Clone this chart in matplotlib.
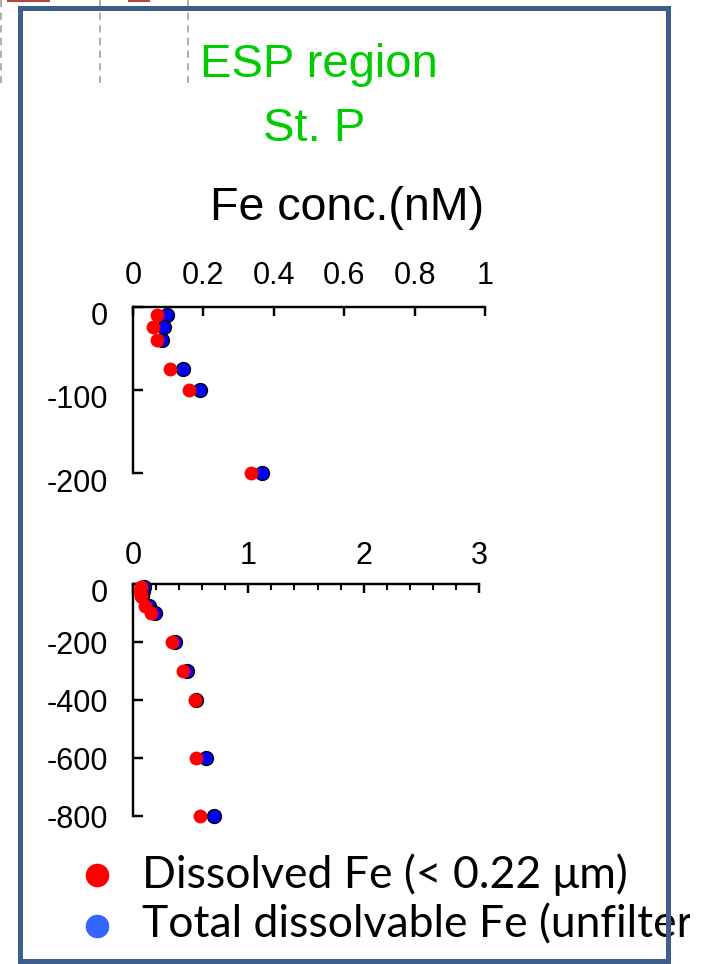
import matplotlib
matplotlib.use("Agg")
import matplotlib.pyplot as plt
from matplotlib.lines import Line2D
from matplotlib.patches import Rectangle
from matplotlib.transforms import Bbox, TransformedBbox, ScaledTranslation
from matplotlib.ticker import MultipleLocator

W, H = 717, 964

# Fe profile at St. P (depth in m, conc. in nM)
depth = [-10, -25, -40, -75, -100, -200, -300, -400, -600, -800]
dissolved_fe = [0.067, 0.058, 0.069, 0.105, 0.16, 0.335, 0.43, 0.54, 0.545, 0.58]
total_fe = [0.096, 0.089, 0.081, 0.143, 0.19, 0.367, 0.47, 0.55, 0.63, 0.70]
n_upper = 6  # upper panel shows 0-200 m

upper_xticks = [0, 0.2, 0.4, 0.6, 0.8, 1]
upper_xlabels = ["0", "0.2", "0.4", "0.6", "0.8", "1"]
upper_yticks = [0, -100, -200]
upper_ylabels = ["0", "-100", "-200"]
lower_xticks = [0, 1, 2, 3]
lower_xlabels = ["0", "1", "2", "3"]
lower_yticks = [0, -200, -400, -600, -800]
lower_ylabels = ["0", "-200", "-400", "-600", "-800"]

legend_labels = ["Dissolved Fe (< 0.22 \u03bcm)", "Total dissolvable Fe (unfiltered)"]
legend_colors = ["#ff0000", "#3366ff"]


def fx(x):
    return x / W


def fy(y):
    return 1 - y / H


fig = plt.figure(figsize=(W / 100, H / 100), dpi=100)
fig.patch.set_facecolor("white")

# bits of the neighbouring slide content at the top
for x in [1, 100, 188]:
    fig.add_artist(Line2D([fx(x), fx(x)], [fy(0), fy(83)], transform=fig.transFigure,
                          color="#a8a8a8", lw=1.3, ls=(0, (4, 3))))
for x0, x1 in [(7, 50), (128, 150)]:
    fig.add_artist(Rectangle((fx(x0), fy(2)), fx(x1 - x0), 2 / H, transform=fig.transFigure,
                             color="#b5463e", lw=0))

font = "Liberation Sans"
green = "#00cc00"
fig.text(fx(319), fy(77), "ESP region", color=green, fontsize=34, family=font,
         ha="center", va="baseline")
fig.text(fx(314), fy(141), "St. P", color=green, fontsize=34, family=font,
         ha="center", va="baseline")
fig.text(fx(347), fy(220), "Fe conc.(nM)", color="black", fontsize=33.5, family=font,
         ha="center", va="baseline")


def setup(ax, xlim, ylim, xticks, xlabels, yticks, ylabels, xpad):
    ax.set_xlim(*xlim)
    ax.set_ylim(*ylim)
    ax.spines["bottom"].set_visible(False)
    ax.spines["right"].set_visible(False)
    for s in ["top", "left"]:
        ax.spines[s].set_linewidth(1.75)
    ax.xaxis.tick_top()
    ax.set_xticks(xticks)
    ax.set_xticklabels(xlabels, family=font, fontsize=22)
    ax.set_yticks(yticks)
    ax.set_yticklabels(ylabels, family=font, fontsize=22)
    ax.tick_params(axis="x", which="major", direction="in", length=6.5, width=1.75, pad=xpad)
    ax.tick_params(axis="x", which="minor", direction="in", length=4.5, width=1.5)
    ax.tick_params(axis="y", direction="in", length=7, width=1.75, pad=18)
    ax.patch.set_alpha(0)


def plot_profile(ax, n):
    ax.plot(total_fe[:n], depth[:n], "o", ms=10, mfc="#0000ff", mec="black", mew=1,
            clip_on=False, zorder=3)
    ax.plot(dissolved_fe[:n], depth[:n], "o", ms=10, mfc="#ff0000", mec="none",
            clip_on=False, zorder=4)


# upper panel 0-200 m
ax1 = fig.add_axes([fx(133), fy(473), fx(485 - 133), (473 - 306.5) / H])
setup(ax1, (0, 1), (-200, 0), upper_xticks, upper_xlabels, upper_yticks, upper_ylabels, 11.5)
plot_profile(ax1, n_upper)
shift = ScaledTranslation(0, -7 / 100, fig.dpi_scale_trans)
for lab in ax1.get_yticklabels():
    lab.set_transform(lab.get_transform() + shift)

# lower panel 0-800 m
ax2 = fig.add_axes([fx(133), fy(816), fx(479 - 133), (816 - 584) / H])
setup(ax2, (0, 3), (-800, 0), lower_xticks, lower_xlabels, lower_yticks, lower_ylabels, 9.5)
ax2.xaxis.set_minor_locator(MultipleLocator(0.2))
plot_profile(ax2, len(depth))
lab0 = ax2.get_yticklabels()[0]
lab0.set_transform(lab0.get_transform() + shift)

# legend (second line runs past the slide frame and is cut, as on the slide)
clip = TransformedBbox(Bbox.from_extents(0, 0, fx(690), 1), fig.transFigure)
for i, (lab, col) in enumerate(zip(legend_labels, legend_colors)):
    yc = 875 + 51 * i
    fig.add_artist(Line2D([fx(97)], [fy(yc)], transform=fig.transFigure, marker="o",
                          ms=17, mfc=col, mec="none", ls=""))
    t = fig.text(fx(142), fy(888 + 49 * i), lab, fontsize=32,
                 family=["Lato", "DejaVu Sans"], ha="left", va="baseline")
    t.set_clip_box(clip)
    t.set_clip_on(True)

# slide frame
fig.add_artist(Rectangle((fx(19.5), fy(961)), fx(668 - 19.5), (961 - 7.5) / H,
                         transform=fig.transFigure, fill=False, ec="#3d5d8c", lw=3.6,
                         zorder=10))

fig.savefig("out.png", dpi=100)
